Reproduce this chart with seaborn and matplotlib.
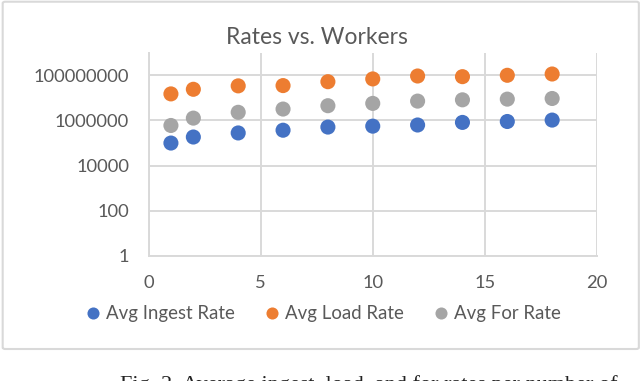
import pandas as pd
import matplotlib.pyplot as plt
import seaborn as sns
from matplotlib.patches import FancyBboxPatch

# Data
workers = [1, 2, 4, 6, 8, 10, 12, 14, 16, 18]
ingest_rate = [1.0e5, 1.85e5, 2.8e5, 3.7e5, 5.1e5, 5.6e5, 6.3e5, 8.2e5, 9.0e5, 1.04e6]
load_rate = [1.5e7, 2.4e7, 3.4e7, 3.5e7, 5.2e7, 6.9e7, 9.3e7, 8.7e7, 1.0e8, 1.14e8]
for_rate = [6.0e5, 1.27e6, 2.3e6, 3.2e6, 4.5e6, 5.7e6, 7.2e6, 8.2e6, 8.8e6, 9.4e6]
series_names = ["Avg Ingest Rate", "Avg Load Rate", "Avg For Rate"]
colors = ["#4472C4", "#ED7D31", "#A5A5A5"]
y_ticks = [1, 100, 10000, 1000000, 100000000]

df = pd.DataFrame({
    "Workers": workers * 3,
    "Rate": ingest_rate + load_rate + for_rate,
    "Series": [s for s in series_names for _ in workers],
})

sns.set_style("white")
plt.rcParams["font.family"] = ["Lato", "DejaVu Sans"]

fig = plt.figure(figsize=(6.4, 3.81), dpi=100)
ax = fig.add_axes([148.5 / 640, 1 - 256 / 381, (597 - 148.5) / 640, (256 - 52.7) / 381])

sns.scatterplot(data=df, x="Workers", y="Rate", hue="Series", hue_order=series_names,
                palette=colors, s=118, linewidth=0, ax=ax, legend=True, zorder=3)

ax.set_yscale("log")
ax.set_ylim(1, 1e9)
ax.set_xlim(0, 20)
ax.set_yticks(y_ticks)
ax.set_yticklabels([str(t) for t in y_ticks])
ax.minorticks_off()
ax.set_xticks([0, 5, 10, 15, 20])
ax.grid(True, color="#d9d9d9", linewidth=1.4)
ax.set_axisbelow(True)
for side in ["top", "right"]:
    ax.spines[side].set_visible(False)
for side in ["left", "bottom"]:
    ax.spines[side].set_color("#d9d9d9")
    ax.spines[side].set_linewidth(1.4)
ax.tick_params(axis="y", length=0, labelsize=13.2, labelcolor="#595959", pad=14)
ax.tick_params(axis="x", length=0, labelsize=13.2, labelcolor="#595959", pad=14)
ax.set_xlabel("")
ax.set_ylabel("")

fig.text(316.5 / 640, 1 - 37 / 381, "Rates vs. Workers", ha="center", va="center",
         fontsize=16.5, color="#595959")

handles, labels = ax.get_legend_handles_labels()
ax.legend(handles, labels, loc="center", bbox_to_anchor=(323.5 / 640, 1 - 314 / 381),
          bbox_transform=fig.transFigure, ncol=3, frameon=False,
          fontsize=13.4, labelcolor="#595959", handlelength=0.8, handletextpad=0.3,
          columnspacing=1.6, markerscale=0.8, borderpad=0)

# chart border
fig.patches.append(FancyBboxPatch((0.0042, 0.084), 0.994, 0.9115,
                                  boxstyle="round,pad=0,rounding_size=0.004",
                                  transform=fig.transFigure, fill=False,
                                  edgecolor="#d9d9d9", linewidth=1.5))

# caption (cut off at the bottom of the image)
fig.text(120 / 640, 1 - 390 / 381, "Fig. 2. Average ingest, load, and for rates per number of",
         ha="left", va="baseline", fontsize=16, family="Liberation Serif", color="#222222")

fig.savefig("out.png", dpi=100)
